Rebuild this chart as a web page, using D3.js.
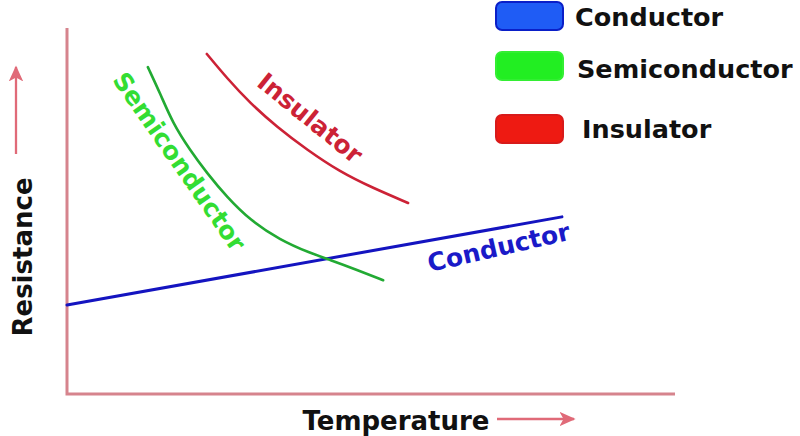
<!DOCTYPE html>
<html><head><meta charset="utf-8">
<script src="https://cdn.jsdelivr.net/npm/d3@7"></script>
<style>body{margin:0;background:#fff}svg{display:block}text{font-family:"DejaVu Sans",Verdana,sans-serif;font-weight:bold}</style>
</head><body>
<svg id="c" width="800" height="436"></svg>
<script>
// data (temperature / resistance in arbitrary units 0..100)
const seriesNames = ["Conductor", "Semiconductor", "Insulator"];
const seriesColors = ["#1414c0", "#22aa33", "#cc2236"];
const legendFill = ["#1f5cf5", "#22ee22", "#ee1a12"];
const legendStroke = ["#0a1fc8", "#33ee33", "#d81a1a"];
const labelColors = ["#1a1ac8", "#33dd33", "#cc2236"];
const conductorT = [0, 81.4];
const conductorR = [24.3, 48.4];
const semiT = [13.3, 15.3, 17.4, 20.2, 23.0, 26.3, 30.1, 35.0, 40.0, 43.3, 47.7, 52.0];
const semiR = [89.3, 82.2, 74.0, 66.7, 60.4, 53.8, 47.5, 42.1, 38.5, 36.6, 33.9, 31.1];
const insT = [23.0, 26.3, 30.1, 34.5, 39.5, 44.9, 50.3, 56.1];
const insR = [92.9, 86.3, 79.5, 73.0, 66.7, 60.7, 56.3, 52.2];
// label anchor points (data units) and angles
const labelT = [71.0, 18.5, 40.0];
const labelR = [40.1, 63.5, 75.4];
const labelAngle = [-13, 55, 39];

const svg = d3.select("#c");
const x = d3.scaleLinear().domain([0, 100]).range([67, 675]);
const y = d3.scaleLinear().domain([0, 100]).range([394, 28]);
const axisColor = "#d6848d";

// axes
svg.append("path").attr("d", `M${x(0)},${y(100)}V${y(0)}H${x(100)}`)
  .attr("fill", "none").attr("stroke", axisColor).attr("stroke-width", 3);

// arrow marker
svg.append("defs").append("marker").attr("id", "ah").attr("viewBox", "0 0 10 10")
  .attr("refX", 9).attr("refY", 5).attr("markerWidth", 7).attr("markerHeight", 7)
  .attr("markerUnits", "strokeWidth").attr("orient", "auto")
  .append("path").attr("d", "M0,0.5 L10,5 L0,9.5 L2.5,5 Z").attr("fill", "#e06a78");

svg.append("line").attr("x1", 16).attr("y1", 154).attr("x2", 16).attr("y2", 67)
  .attr("stroke", "#e06a78").attr("stroke-width", 2.3).attr("marker-end", "url(#ah)");
svg.append("line").attr("x1", 497).attr("y1", 419).attr("x2", 574).attr("y2", 419)
  .attr("stroke", "#e06a78").attr("stroke-width", 2.3).attr("marker-end", "url(#ah)");

svg.append("text").attr("transform", "translate(32,257) rotate(-90)")
  .attr("text-anchor", "middle").attr("font-size", 26).attr("fill", "#111").text("Resistance");
svg.append("text").attr("x", 396).attr("y", 430)
  .attr("text-anchor", "middle").attr("font-size", 26).attr("fill", "#111").text("Temperature");

// curves
const data = [
  conductorT.map((t, i) => [t, conductorR[i]]),
  semiT.map((t, i) => [t, semiR[i]]),
  insT.map((t, i) => [t, insR[i]])
];
const line = d3.line().x(d => x(d[0])).y(d => y(d[1])).curve(d3.curveBasis);
const widths = [3, 2.6, 2.6];
data.forEach((d, i) => {
  svg.append("path").attr("d", line(d)).attr("fill", "none")
    .attr("stroke", seriesColors[i]).attr("stroke-width", widths[i]).attr("stroke-linecap", "round");
});

// curve labels
seriesNames.forEach((n, i) => {
  svg.append("text")
    .attr("transform", `translate(${x(labelT[i])},${y(labelR[i])}) rotate(${labelAngle[i]})`)
    .attr("text-anchor", "middle").attr("dy", "0.35em").attr("font-size", 25)
    .attr("fill", labelColors[i]).text(n);
});

// legend
const legY = [2, 52, 115];
const legTextY = [26, 78, 138];
const legTextX = [575, 577, 582];
seriesNames.forEach((n, i) => {
  svg.append("rect").attr("x", 496).attr("y", legY[i]).attr("width", 67).attr("height", 28)
    .attr("rx", 6).attr("fill", legendFill[i]).attr("stroke", legendStroke[i]).attr("stroke-width", 2);
  svg.append("text").attr("x", legTextX[i]).attr("y", legTextY[i]).attr("font-size", 25.5)
    .attr("fill", "#111").text(n);
});
</script>
</body></html>
